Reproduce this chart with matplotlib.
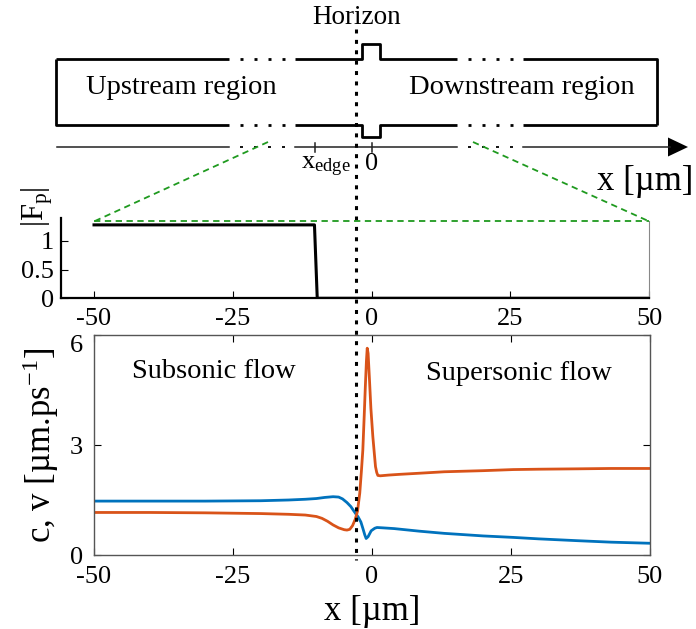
import numpy as np
import matplotlib
matplotlib.use("Agg")
import matplotlib.pyplot as plt
from matplotlib.patches import Polygon

plt.rcParams['font.family'] = ['Liberation Serif', 'DejaVu Serif']
plt.rcParams['mathtext.fontset'] = 'custom'
plt.rcParams['mathtext.rm'] = 'Liberation Serif'
plt.rcParams['mathtext.it'] = 'Liberation Serif:italic'
plt.rcParams['axes.unicode_minus'] = False

# pinning force profile |F_p|
fp_x = [-50, -10.3, -9.8, 50]
fp_y = [1.28, 1.28, 0.0, 0.0]

# sound speed c (blue)
c_x = [-50, -40, -30, -20, -15, -12, -10, -8.5, -7, -6, -5.3, -4.5, -3.8, -3.4,
       -2.9, -2.5, -2.0, -1.65, -1.3, -1.05, -0.7, -0.15, 0.5, 0.9, 2, 4, 8.5,
       13, 20, 25.4, 30, 37, 43, 50]
c_y = [1.47, 1.47, 1.47, 1.48, 1.50, 1.52, 1.54, 1.57, 1.59, 1.58, 1.53, 1.43,
       1.32, 1.23, 1.12, 1.04, 0.90, 0.73, 0.55, 0.45, 0.50, 0.66, 0.73, 0.75,
       0.74, 0.72, 0.65, 0.59, 0.52, 0.48, 0.44, 0.39, 0.35, 0.32]

# flow velocity v (orange)
v_x = [-50, -40, -30, -20, -15, -12, -10, -9, -8, -7, -6, -5, -4.5, -4.0, -3.5,
       -3.0, -2.6, -2.2, -1.9, -1.65, -1.4, -1.2, -1.0, -0.86, -0.7, -0.45,
       -0.2, 0.15, 0.4, 0.63, 0.85, 1.05, 1.5, 3, 5, 8.5, 13, 20, 25.4, 30, 37,
       43, 50]
v_y = [1.16, 1.16, 1.15, 1.13, 1.11, 1.09, 1.05, 1.00, 0.92, 0.82, 0.74, 0.69,
       0.68, 0.70, 0.80, 0.98, 1.20, 1.69, 2.30, 2.86, 3.80, 4.59, 5.30, 5.64,
       5.50, 4.77, 4.00, 3.23, 2.80, 2.41, 2.25, 2.17, 2.16, 2.18, 2.20, 2.23,
       2.27, 2.30, 2.33, 2.34, 2.35, 2.36, 2.36]

x_ticks = [-50, -25, 0, 25, 50]
x_horizon = -2.8
fp_top = 1.34

W, H = 696, 629
fig = plt.figure(figsize=(W / 100, H / 100), dpi=100)


def rect(l, t, r, b):
    # pixel box (top-down) -> figure fraction
    return [l / W, 1 - b / H, (r - l) / W, (b - t) / H]


tick_kw = dict(direction='in', labelsize=19, length=5, width=0.8)

# ---- middle panel: |F_p|
ax1 = fig.add_axes(rect(60.7, 218, 649.3, 298.3))
ax1.plot(fp_x, fp_y, color='black', lw=2.2)
ax1.set_xlim(-56, 50)
ax1.set_ylim(0, 1.4)
ax1.set_xticks(x_ticks)
ax1.set_yticks([0, 0.5, 1])
ax1.set_yticklabels(['0', '0.5', '1'])
ax1.tick_params(**tick_kw)
ax1.tick_params(axis='x', pad=7)
ax1.tick_params(axis='y', pad=5)
ax1.spines['top'].set_visible(False)
ax1.spines['left'].set_linewidth(1.6)
ax1.spines['bottom'].set_linewidth(1.6)
ax1.spines['right'].set_color('#888888')
ax1.spines['right'].set_linewidth(0.8)
ax1.spines['right'].set_bounds(0, fp_top)
ax1.patch.set_alpha(0)

# ---- bottom panel: c, v
ax2 = fig.add_axes(rect(94, 335, 650, 555))
ax2.plot(c_x, c_y, color='#0072BD', lw=2)
ax2.plot(v_x, v_y, color='#D95319', lw=2)
ax2.set_xlim(-50, 50)
ax2.set_ylim(0, 6)
ax2.set_xticks(x_ticks)
ax2.set_yticks([0, 3, 6])
ax2.tick_params(**tick_kw, top=True, right=True)
ax2.tick_params(axis='x', pad=8)
ax2.tick_params(axis='y', pad=8)
ax2.yaxis.get_major_ticks()[-1].label1.set_va('top')
for s in ax2.spines.values():
    s.set_color('#555555')
    s.set_linewidth(1.0)
ax2.set_xlabel('x [µm]', fontsize=25, labelpad=5)
ax2.set_ylabel('c, v [µm.ps$^{-1}$]', fontsize=25, labelpad=6)
ax2.text(-28.5, 5.0, 'Subsonic flow', fontsize=20.5, ha='center', va='center')
ax2.text(26.5, 4.95, 'Supersonic flow', fontsize=20.5, ha='center', va='center')
ax2.patch.set_alpha(0)

# ---- overlay in pixel coords (top-down) for the schematic
ax0 = fig.add_axes([0, 0, 1, 1], zorder=5)
ax0.set_xlim(0, W)
ax0.set_ylim(H, 0)
ax0.axis('off')
ax0.patch.set_alpha(0)


def to_px(ax, x, y):
    dx, dy = ax.transData.transform((x, y))
    return dx, H - dy


box_l, box_r, box_t, box_b = 56, 657, 59.3, 125
gaps = [(229, 295), (457, 523)]
notch_l, notch_r, notch_up, notch_dn = 362.3, 380, 44, 137.3
axis_y = 147
lw_box = 2.0
k = dict(color='black', lw=lw_box, solid_capstyle='butt')

# top edge
ax0.plot([box_l, gaps[0][0]], [box_t, box_t], **k)
ax0.plot([gaps[0][1], notch_l, notch_l, notch_r, notch_r, gaps[1][0]],
         [box_t, box_t, notch_up, notch_up, box_t, box_t], **k)
ax0.plot([gaps[1][1], box_r, box_r], [box_t, box_t, box_b], **k)
# bottom edge
ax0.plot([box_l, box_l, gaps[0][0]], [box_t, box_b, box_b], **k)
ax0.plot([gaps[0][1], notch_l, notch_l, notch_r, notch_r, gaps[1][0]],
         [box_b, box_b, notch_dn, notch_dn, box_b, box_b], **k)
ax0.plot([gaps[1][1], box_r], [box_b, box_b], **k)
# dotted gaps
for g0, g1 in gaps:
    for xd in np.linspace(g0 + 12, g1 - 12, 4):
        for yy, lw in [(box_t, lw_box), (box_b, lw_box), (axis_y, 1.3)]:
            ax0.plot([xd - 1.5, xd + 1.5], [yy, yy], color='black', lw=lw,
                     solid_capstyle='butt')

# schematic x axis
ka = dict(color='#222222', lw=1.1)
ax0.plot([57, gaps[0][0]], [axis_y, axis_y], **ka)
ax0.plot([gaps[0][1], gaps[1][0]], [axis_y, axis_y], **ka)
ax0.plot([gaps[1][1], 670], [axis_y, axis_y], **ka)
ax0.add_patch(Polygon([[668, axis_y - 9.5], [688, axis_y], [668, axis_y + 9.5]],
                      closed=True, color='black', lw=0))
for xt in [315, 371.7]:
    ax0.plot([xt, xt], [axis_y - 4.5, axis_y + 4.5], **ka)

ax0.text(356.5, 17, 'Horizon', fontsize=19.5, ha='center', va='center')
ax0.text(181, 88, 'Upstream region', fontsize=20.5, ha='center', va='center')
ax0.text(522, 88, 'Downstream region', fontsize=20.5, ha='center', va='center')
ax0.text(326, 167, 'x$_\\mathrm{edge}$', fontsize=19, ha='center', va='center')
ax0.text(371.7, 164, '0', fontsize=19, ha='center', va='center')
ax0.text(693, 181, 'x [µm]', fontsize=25, ha='right', va='center')
ax0.text(37, 207, '|F$_\\mathrm{p}$|', fontsize=22, ha='center', va='center',
         rotation=90)

# horizon line across everything
hx, _ = to_px(ax2, x_horizon, 0)
ax0.plot([hx, hx], [29, 560], color='black', lw=2.2,
         linestyle=(0, (1.3, 2.1)))

# green zoom connectors
gl = to_px(ax1, -50, fp_top)
gr = to_px(ax1, 50, fp_top)
kg = dict(color='#1f9a1f', lw=1.3, linestyle=(0, (3.5, 2.5)))
ax0.plot([268, gl[0]], [142, gl[1]], **kg)
ax0.plot([473, gr[0]], [142, gr[1]], **kg)
ax0.plot([gl[0], gr[0]], [gl[1], gr[1]], **kg)

fig.savefig('out.png', dpi=100)
